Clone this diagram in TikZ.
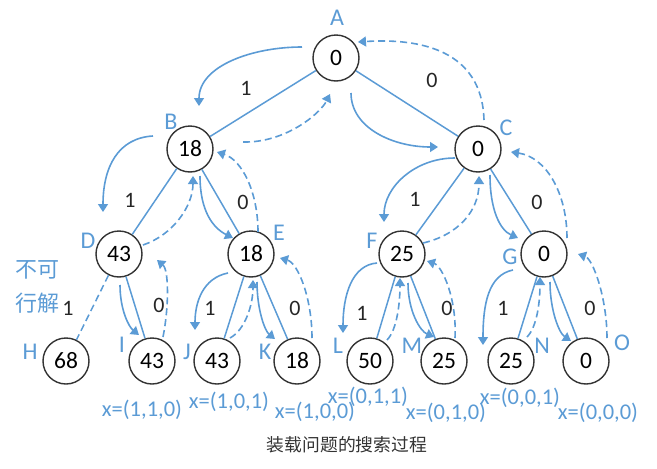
\documentclass[tikz,border=0pt]{standalone}
\usepackage{fontspec}
\setmainfont{Carlito}
\newfontfamily\cjkfont{Noto Sans CJK SC}
\usetikzlibrary{arrows.meta}
\definecolor{myblue}{HTML}{5B9BD5}
\definecolor{mygray}{HTML}{333333}
\begin{document}
\begin{tikzpicture}[x=1pt,y=-1pt,
 tnode/.style={circle,draw=mygray,line width=1.4pt,fill=white,minimum size=46pt,inner sep=0pt,font=\fontsize{23.5}{26}\selectfont,text=black},
 lab/.style={text=myblue,font=\fontsize{24}{26}\selectfont,inner sep=0pt},
 elab/.style={text=black!85,font=\fontsize{22}{24}\selectfont,inner sep=0pt},
 xlab/.style={text=myblue,font=\fontsize{22.5}{24}\selectfont,inner sep=0pt},
 cjklab/.style={text=myblue,font=\cjkfont\fontsize{22}{24}\selectfont,inner sep=0pt},
 caption/.style={text=mygray,font=\cjkfont\fontsize{17.8}{20}\selectfont,inner sep=0pt},
 tedge/.style={draw=myblue,line width=1.5pt},
 godown/.style={draw=myblue,line width=1.6pt,-{Triangle[width=10pt,length=8pt]}},
 goup/.style={godown,dash pattern=on 7pt off 4pt},
]
\useasboundingbox (0,0) rectangle (657,469);
% nodes
\node[tnode] (A) at (336,58) {0};
\node[tnode] (B) at (190,149) {18};
\node[tnode] (C) at (478,149) {0};
\node[tnode] (D) at (119,254) {43};
\node[tnode] (E) at (251,254) {18};
\node[tnode] (F) at (402,254) {25};
\node[tnode] (G) at (544,254) {0};
\node[tnode] (H) at (66,361) {68};
\node[tnode] (I) at (152,361) {43};
\node[tnode] (J) at (217,361) {43};
\node[tnode] (K) at (297,361) {18};
\node[tnode] (L) at (370,361) {50};
\node[tnode] (M) at (444,361) {25};
\node[tnode] (N) at (511,361) {25};
\node[tnode] (O) at (586,361) {0};
% tree edges
\draw[tedge] (A) -- (B);
\draw[tedge] (A) -- (C);
\draw[tedge] (B) -- (D);
\draw[tedge] (B) -- (E);
\draw[tedge] (C) -- (F);
\draw[tedge] (C) -- (G);
\draw[tedge,dash pattern=on 7pt off 4pt] (D) -- (H);
\draw[tedge] (D) -- (I);
\draw[tedge] (E) -- (J);
\draw[tedge] (E) -- (K);
\draw[tedge] (F) -- (L);
\draw[tedge] (F) -- (M);
\draw[tedge] (G) -- (N);
\draw[tedge] (G) -- (O);
% node letters
\node[lab] (lA) at (337,18) {A};
\node[lab] (lB) at (171,122) {B};
\node[lab] (lC) at (506,128) {C};
\node[lab] (lD) at (88,241) {D};
\node[lab] (lE) at (279,233) {E};
\node[lab] (lF) at (372,241) {F};
\node[lab] (lG) at (510,257) {G};
\node[lab] (lH) at (30,352) {H};
\node[lab] (lI) at (122,345) {I};
\node[lab] (lJ) at (187,352) {J};
\node[lab] (lK) at (265,352) {K};
\node[lab] (lL) at (338,346) {L};
\node[lab] (lM) at (412,346) {M};
\node[lab] (lN) at (542,346) {N};
\node[lab] (lO) at (622,343) {O};
% edge labels
\node[elab] (eAB) at (246,88) {1};
\node[elab] (eAC) at (432,80) {0};
\node[elab] (eBD) at (130,200) {1};
\node[elab] (eBE) at (243,202) {0};
\node[elab] (eCF) at (415,199) {1};
\node[elab] (eCG) at (537,202) {0};
\node[elab] (eDH) at (68,308) {1};
\node[elab] (eDI) at (159,305) {0};
\node[elab] (eEJ) at (210,308) {1};
\node[elab] (eEK) at (295,308) {0};
\node[elab] (eFL) at (362,313) {1};
\node[elab] (eFM) at (447,308) {0};
\node[elab] (eGN) at (503,308) {1};
\node[elab] (eGO) at (590,308) {0};
% infeasible
\node[cjklab] (inf1) at (38,270) {不可};
\node[cjklab] (inf2) at (38,303) {行解};
% solution labels
\node[xlab] (x1) at (142,410) {x=(1,1,0)};
\node[xlab] (x2) at (229,402) {x=(1,0,1)};
\node[xlab] (x3) at (315,412) {x=(1,0,0)};
\node[xlab] (x4) at (368,397) {x=(0,1,1)};
\node[xlab] (x5) at (446,413) {x=(0,1,0)};
\node[xlab] (x6) at (520,398) {x=(0,0,1)};
\node[xlab] (x7) at (598,413) {x=(0,0,0)};
% caption
\node[caption] (cap) at (347,445) {装载问题的搜索过程};
% arrow end points
\coordinate (s1) at (302,47);  \coordinate (e1) at (199,106);
\coordinate (s2) at (243,142); \coordinate (e2) at (330,94);
\coordinate (s3) at (351,93);  \coordinate (e3) at (438,147);
\coordinate (s4) at (484,120); \coordinate (e4) at (358,42);
\coordinate (s5) at (153,136); \coordinate (e5) at (103,212);
\coordinate (s6) at (143,245); \coordinate (e6) at (193,176);
\coordinate (s7) at (200,176); \coordinate (e7) at (233,238);
\coordinate (s8) at (258,232); \coordinate (e8) at (217,152);
\coordinate (s9) at (455,158); \coordinate (e9) at (384,222);
\coordinate (s10) at (423,243); \coordinate (e10) at (479,176);
\coordinate (s11) at (490,175); \coordinate (e11) at (518,238);
\coordinate (s12) at (567,238); \coordinate (e12) at (511,152);
\coordinate (s14) at (120,285); \coordinate (e14) at (139,335);
\coordinate (s15) at (163,337); \coordinate (e15) at (157,260);
\coordinate (s16) at (228,273); \coordinate (e16) at (195,330);
\coordinate (s17) at (230,338); \coordinate (e17) at (253,280);
\coordinate (s18) at (257,282); \coordinate (e18) at (275,339);
\coordinate (s19) at (312,338); \coordinate (e19) at (280,258);
\coordinate (s20) at (377,263); \coordinate (e20) at (343,333);
\coordinate (s21) at (387,340); \coordinate (e21) at (400,278);
\coordinate (s22) at (408,283); \coordinate (e22) at (434,337);
\coordinate (s23) at (455,338); \coordinate (e23) at (427,261);
\coordinate (s24) at (513,270); \coordinate (e24) at (483,345);
\coordinate (s25) at (527,337); \coordinate (e25) at (540,277);
\coordinate (s26) at (550,282); \coordinate (e26) at (571,341);
\coordinate (s27) at (607,338); \coordinate (e27) at (578,254);
% search arrows
\draw[godown] (s1) .. controls +(-50,0) and +(0,-40) .. (e1);
\draw[goup] (s2) .. controls +(42,1) and +(-10,20) .. (e2);
\draw[godown] (s3) .. controls +(0,35) and +(-45,0) .. (e3);
\draw[goup] (s4) .. controls +(-2,-70) and +(62,-4) .. (e4);
\draw[godown] (s5) .. controls +(-35,2) and +(0,-45) .. (e5);
\draw[goup] (s6) .. controls +(30,-10) and +(0,30) .. (e6);
\draw[godown] (s7) .. controls +(0,35) and +(-20,-10) .. (e7);
\draw[goup] (s8) .. controls +(0,-40) and +(25,8) .. (e8);
\draw[godown] (s9) .. controls +(-40,0) and +(0,-35) .. (e9);
\draw[goup] (s10) .. controls +(35,-8) and +(0,35) .. (e10);
\draw[godown] (s11) .. controls +(0,35) and +(-18,-8) .. (e11);
\draw[goup] (s12) .. controls +(0,-45) and +(35,5) .. (e12);
\draw[godown] (s14) .. controls +(0,25) and +(-10,-8) .. (e14);
\draw[goup] (s15) .. controls +(6,-30) and +(12,10) .. (e15);
\draw[godown] (s16) .. controls +(-25,5) and +(0,-28) .. (e16);
\draw[goup] (s17) .. controls +(15,-8) and +(0,25) .. (e17);
\draw[godown] (s18) .. controls +(0,28) and +(-10,-8) .. (e18);
\draw[goup] (s19) .. controls +(0,-40) and +(18,5) .. (e19);
\draw[godown] (s20) .. controls +(-25,2) and +(0,-38) .. (e20);
\draw[goup] (s21) .. controls +(10,-10) and +(0,25) .. (e21);
\draw[godown] (s22) .. controls +(0,28) and +(-14,-6) .. (e22);
\draw[goup] (s23) .. controls +(2,-40) and +(15,5) .. (e23);
\draw[godown] (s24) .. controls +(-25,5) and +(0,-40) .. (e24);
\draw[goup] (s25) .. controls +(10,-10) and +(0,25) .. (e25);
\draw[godown] (s26) .. controls +(0,28) and +(-12,-8) .. (e26);
\draw[goup] (s27) .. controls +(0,-40) and +(15,5) .. (e27);
\end{tikzpicture}
\end{document}
